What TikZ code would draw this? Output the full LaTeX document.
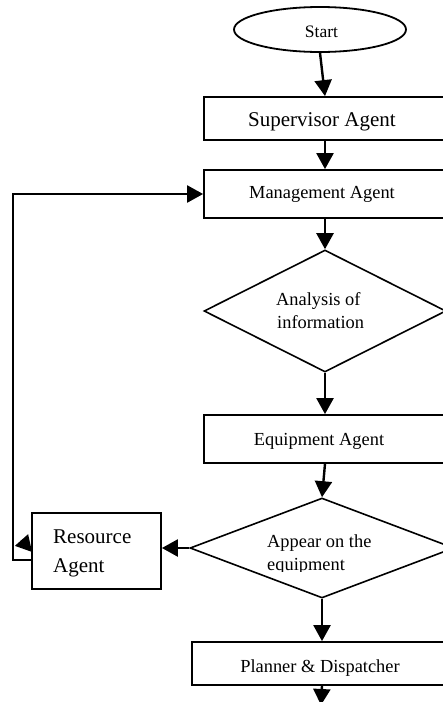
\documentclass[tikz,border=0pt]{standalone}
\usepackage{fontspec}
\setmainfont{Liberation Serif}
\usetikzlibrary{arrows.meta,shapes.geometric}
\begin{document}
\begin{tikzpicture}[x=1pt,y=-1pt,
  box/.style={draw, line width=1.8pt, rectangle, inner sep=0pt},
  dia/.style={draw, line width=1.6pt, diamond, inner sep=0pt},
  oval/.style={draw, line width=1.8pt, ellipse, inner sep=0pt},
  txt/.style={inner sep=0pt, font=\fontsize{18.4}{24}\selectfont},
  bigtxt/.style={inner sep=0pt, font=\fontsize{21}{29}\selectfont},
  smalltxt/.style={inner sep=0pt, font=\fontsize{17.5}{21}\selectfont},
  flow/.style={line width=2.4pt, -{Triangle[width=17pt,length=16pt]}},
]
\useasboundingbox (0,0) rectangle (443,702);
\clip (0,0) rectangle (443,702);

% shapes of the flow chart
\node[oval, minimum width=172pt, minimum height=45pt] (start) at (320,29.5) {};
\node[smalltxt, anchor=base] (startT) at (321.5,37) {Start};

\node[box, minimum width=242pt, minimum height=43pt] (sup) at (325,118.5) {};
\node[bigtxt, anchor=base] (supT) at (322,126) {Supervisor Agent};

\node[box, minimum width=242pt, minimum height=48pt] (mgmt) at (325,194) {};
\node[txt, anchor=base] (mgmtT) at (322,198) {Management Agent};

\node[dia, minimum width=242pt, minimum height=122pt] (anl) at (325,311) {};
\node[txt, anchor=base west] (anlT1) at (276,305) {Analysis of};
\node[txt, anchor=base west] (anlT2) at (277,328) {information};

\node[box, minimum width=242pt, minimum height=48pt] (equip) at (325,439) {};
\node[txt, anchor=base] (equipT) at (319,445) {Equipment Agent};

\node[dia, minimum width=264pt, minimum height=100pt] (appear) at (322,548) {};
\node[txt, anchor=base west] (appT1) at (267,547) {Appear on the};
\begin{scope}
  \clip (200,540) rectangle (400,571);
  \node[txt, anchor=base west] (appT2) at (267,570) {equipment};
\end{scope}

\node[box, minimum width=129pt, minimum height=76pt] (res) at (96.5,551) {};
\node[bigtxt, anchor=base west] (resT1) at (53,543) {Resource};
\node[bigtxt, anchor=base west] (resT2) at (53,572) {Agent};

\node[box, minimum width=260pt, minimum height=43pt] (plan) at (322,663.5) {};
\node[txt, anchor=base] (planT) at (320,672) {Planner \& Dispatcher};

\coordinate (exit) at (321,705);
\coordinate (fbtail) at (21.5,540);

% connectors
\draw[flow] (start.south) -- (sup.north);
\draw[flow] (sup.south) -- (mgmt.north);
\draw[flow] (mgmt.south) -- (anl.north);
\draw[flow] (anl.south) -- (equip.north);
\draw[flow] (equip.south) -- (appear.north);
\draw[flow] (appear.south) -- (plan.north);
\draw[flow] (plan.south) -- (exit);
\draw[flow] (appear.west) -- (appear.west -| res.east);
\draw[flow] ([yshift=-9pt]res.west) -- ++(-18,0) |- (mgmt.west);
\draw[flow] (fbtail) -- ([xshift=1pt,yshift=-1pt]res.west);
\end{tikzpicture}
\end{document}
